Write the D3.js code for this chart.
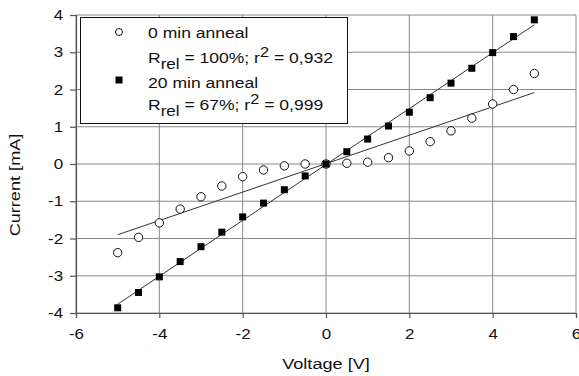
<!DOCTYPE html>
<html>
<head>
<meta charset="utf-8">
<script src="https://cdn.jsdelivr.net/npm/d3@7"></script>
<style>
  body { margin: 0; background: #fff; }
  text { font-family: "Liberation Sans", Arial, sans-serif; fill: #111; }
</style>
</head>
<body>
<div id="chart"></div>
<script>
// data
var voltage = [-5, -4.5, -4, -3.5, -3, -2.5, -2, -1.5, -1, -0.5, 0,
               0.5, 1, 1.5, 2, 2.5, 3, 3.5, 4, 4.5, 5];
var current0 = [-2.38, -1.97, -1.58, -1.21, -0.88, -0.59, -0.34, -0.16, -0.05, 0, 0,
                0.02, 0.05, 0.17, 0.35, 0.6, 0.89, 1.23, 1.61, 2.0, 2.43];
var current20 = [-3.86, -3.45, -3.03, -2.62, -2.22, -1.83, -1.42, -1.05, -0.69, -0.32, 0,
                 0.33, 0.67, 1.02, 1.39, 1.78, 2.17, 2.57, 2.99, 3.42, 3.87];
var xTicks = [-6, -4, -2, 0, 2, 4, 6];
var yTicks = [-4, -3, -2, -1, 0, 1, 2, 3, 4];

var width = 579, height = 376;
var stretch = 1.17;   // the original lettering is wide
var svg = d3.select("#chart").append("svg")
            .attr("width", width)
            .attr("height", height);

var x = d3.scaleLinear().domain([-6, 6]).range([76, 576]);
var y = d3.scaleLinear().domain([-4, 4]).range([313, 15]);

// grid
svg.selectAll("line.vgrid")
  .data(xTicks)
  .enter()
  .append("line")
  .attr("class", "vgrid")
  .attr("x1", function(d) { return x(d); })
  .attr("x2", function(d) { return x(d); })
  .attr("y1", y(4))
  .attr("y2", y(-4))
  .attr("stroke", "#8a8a8a")
  .attr("stroke-width", 1);

svg.selectAll("line.hgrid")
  .data(yTicks)
  .enter()
  .append("line")
  .attr("class", "hgrid")
  .attr("x1", x(-6))
  .attr("x2", x(6))
  .attr("y1", function(d) { return y(d); })
  .attr("y2", function(d) { return y(d); })
  .attr("stroke", "#8a8a8a")
  .attr("stroke-width", 1);

// axes (plain hyphen minus like the original)
var fmt = function(d) { return String(d); };
var xAxis = d3.axisBottom(x).tickValues(xTicks).tickSize(5).tickPadding(11).tickFormat(fmt);
var yAxis = d3.axisLeft(y).tickValues(yTicks).tickSize(6).tickPadding(5).tickFormat(fmt);

var gx = svg.append("g")
  .attr("transform", "translate(0," + y(-4) + ")")
  .call(xAxis);
var gy = svg.append("g")
  .attr("transform", "translate(" + x(-6) + ",0)")
  .call(yAxis);

[gx, gy].forEach(function(g) {
  g.selectAll("path, line").attr("stroke", "#555").attr("stroke-width", 1.2);
  g.selectAll("text")
    .attr("transform", "scale(" + stretch + ",1)")
    .style("font-family", "'Liberation Sans', Arial, sans-serif")
    .style("font-size", "14.5px")
    .attr("fill", "#111");
});

// axis titles
svg.append("text")
  .attr("transform", "translate(" + x(0) + ",369) scale(" + stretch + ",1)")
  .attr("text-anchor", "middle")
  .style("font-size", "15.5px")
  .text("Voltage [V]");

svg.append("text")
  .attr("transform", "translate(20,185) rotate(-90) scale(" + stretch + ",1)")
  .attr("text-anchor", "middle")
  .style("font-size", "15.5px")
  .text("Current [mA]");

// least squares fits
function fit(xs, ys) {
  var mx = d3.mean(xs), my = d3.mean(ys);
  var sxy = d3.sum(xs, function(v, i) { return (v - mx) * (ys[i] - my); });
  var sxx = d3.sum(xs, function(v) { return (v - mx) * (v - mx); });
  var slope = sxy / sxx;
  return [[xs[0], my + slope * (xs[0] - mx)],
          [xs[xs.length - 1], my + slope * (xs[xs.length - 1] - mx)]];
}

var line = d3.line()
  .x(function(d) { return x(d[0]); })
  .y(function(d) { return y(d[1]); });

[current0, current20].forEach(function(series) {
  svg.append("path")
    .attr("d", line(fit(voltage, series)))
    .attr("fill", "none")
    .attr("stroke", "#333")
    .attr("stroke-width", 1);
});

// 0 min anneal: open circles
svg.selectAll("circle.c0")
  .data(voltage)
  .enter()
  .append("circle")
  .attr("class", "c0")
  .attr("cx", function(d) { return x(d); })
  .attr("cy", function(d, i) { return y(current0[i]); })
  .attr("r", 4.2)
  .attr("fill", "#fff")
  .attr("stroke", "#111")
  .attr("stroke-width", 1);

// 20 min anneal: filled squares
svg.selectAll("rect.c20")
  .data(voltage)
  .enter()
  .append("rect")
  .attr("class", "c20")
  .attr("x", function(d) { return x(d) - 3.5; })
  .attr("y", function(d, i) { return y(current20[i]) - 3.5; })
  .attr("width", 7)
  .attr("height", 7)
  .attr("fill", "#000");

// legend
var legend = svg.append("g");
legend.append("rect")
  .attr("x", 80.5)
  .attr("y", 17.5)
  .attr("width", 267)
  .attr("height", 106)
  .attr("fill", "#fff")
  .attr("stroke", "#111")
  .attr("stroke-width", 1);

legend.append("circle")
  .attr("cx", 119)
  .attr("cy", 32)
  .attr("r", 3.5)
  .attr("fill", "#fff")
  .attr("stroke", "#111");

legend.append("rect")
  .attr("x", 115.5)
  .attr("y", 76.5)
  .attr("width", 7)
  .attr("height", 7)
  .attr("fill", "#000");

function legendText(yName, yStats, name, pct, r2) {
  legend.append("text")
    .attr("transform", "translate(148," + yName + ") scale(" + stretch + ",1)")
    .style("font-size", "15px")
    .text(name);
  var t = legend.append("text")
    .attr("transform", "translate(148," + yStats + ") scale(" + stretch + ",1)")
    .style("font-size", "15px");
  t.append("tspan").text("R");
  t.append("tspan").attr("dy", 6).style("font-size", "14.5px").text("rel");
  t.append("tspan").attr("dy", -6).text(" = " + pct + "; r");
  t.append("tspan").attr("dy", -6).style("font-size", "14px").text("2");
  t.append("tspan").attr("dy", 6).text(" = " + r2);
}
legendText(38, 63, "0 min anneal", "100%", "0,932");
legendText(88, 110, "20 min anneal", "67%", "0,999");
</script>
</body>
</html>
